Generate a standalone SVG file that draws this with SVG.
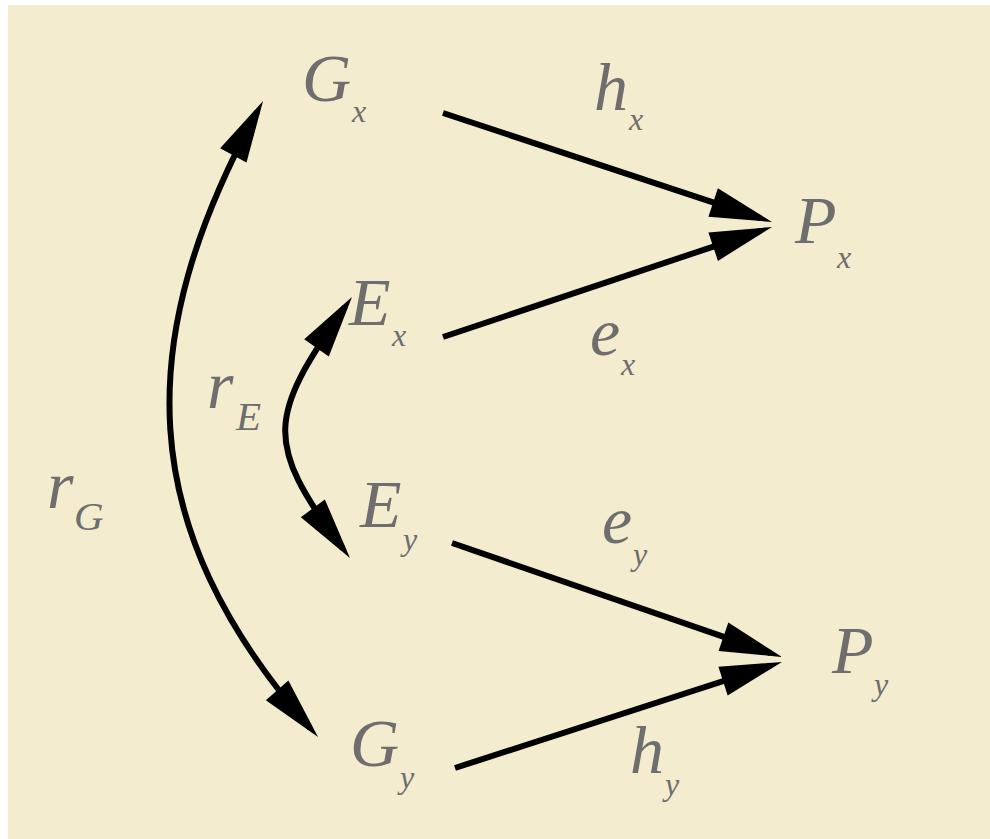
<svg xmlns="http://www.w3.org/2000/svg" width="990" height="839" viewBox="0 0 990 839">
<style>
.t{font-family:"Liberation Serif","Times New Roman",serif;font-style:italic;fill:#6e6e6e;font-size:68px}
.s{font-size:32px}
.sc{font-size:41px}
.c{fill:none;stroke:#000;stroke-width:6}
</style>
<defs>
<marker id="ah" markerUnits="userSpaceOnUse" viewBox="0 -15 62 30" markerWidth="62" markerHeight="30" refX="50" refY="0" orient="auto-start-reverse" overflow="visible">
<path d="M0,-15 L62,0 L0,15 Z" fill="#000"/>
</marker>
</defs>
<rect x="0" y="0" width="990" height="839" fill="#ffffff"/>
<rect x="8" y="5" width="982" height="834" fill="#f3ecce"/>
<g id="connectors">
<line class="c" x1="443" y1="113" x2="760.6" y2="218.2" marker-end="url(#ah)"/>
<line class="c" x1="443" y1="337" x2="760.6" y2="230.8" marker-end="url(#ah)"/>
<line class="c" x1="452" y1="543" x2="770.7" y2="653.1" marker-end="url(#ah)"/>
<line class="c" x1="455" y1="768" x2="770.6" y2="665.7" marker-end="url(#ah)"/>
<path class="c" d="M257.3,111.5 C133,339 132,525 310.1,728" marker-start="url(#ah)" marker-end="url(#ah)"/>
<path class="c" d="M345.1,306.8 C269,416 262.4,441 342.8,548.4" marker-start="url(#ah)" marker-end="url(#ah)"/>
</g>
<g id="edge-labels">
<g id="label-hx"><text class="t" x="594" y="110">h<tspan class="s" x="629" y="130">x</tspan></text></g>
<g id="label-ex"><text class="t" x="590" y="355">e<tspan class="s" x="621" y="375">x</tspan></text></g>
<g id="label-ey"><text class="t" x="602" y="543">e<tspan class="s" x="633" y="565">y</tspan></text></g>
<g id="label-hy"><text class="t" x="630" y="773">h<tspan class="s" x="665" y="795">y</tspan></text></g>
<g id="label-rE"><text class="t" x="207" y="408">r<tspan class="sc" x="236" y="430">E</tspan></text></g>
<g id="label-rG"><text class="t" x="47" y="508">r<tspan class="sc" x="74" y="530">G</tspan></text></g>
</g>
<g id="node-Gx"><text class="t" x="302" y="101">G<tspan class="s" x="352" y="122">x</tspan></text></g>
<g id="node-Ex"><text class="t" x="349" y="325">E<tspan class="s" x="392" y="346">x</tspan></text></g>
<g id="node-Ey"><text class="t" x="360" y="527">E<tspan class="s" x="403" y="550">y</tspan></text></g>
<g id="node-Gy"><text class="t" x="350" y="766">G<tspan class="s" x="400" y="788">y</tspan></text></g>
<g id="node-Px"><text class="t" x="795" y="243">P<tspan class="s" x="837" y="268">x</tspan></text></g>
<g id="node-Py"><text class="t" x="832" y="673">P<tspan class="s" x="874" y="695">y</tspan></text></g>
</svg>
